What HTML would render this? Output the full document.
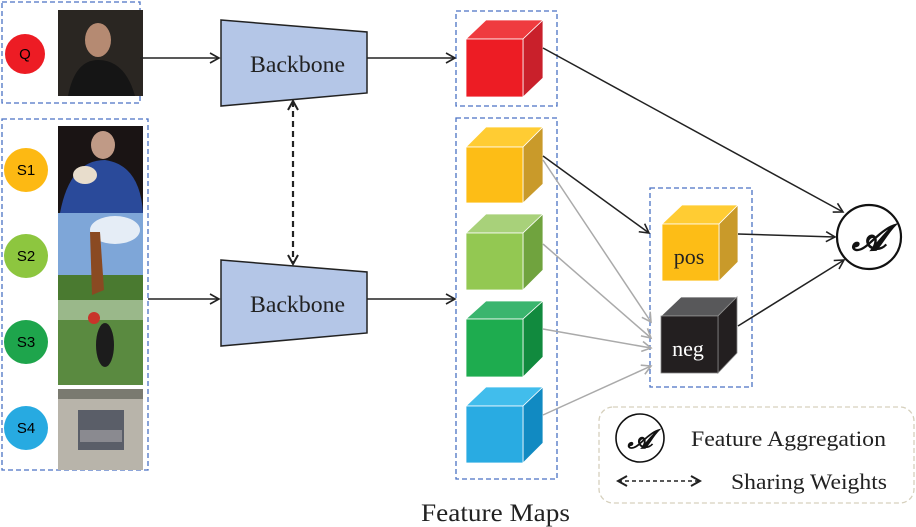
<!DOCTYPE html>
<html><head><meta charset="utf-8"><style>
body{margin:0;background:#fff;width:916px;height:527px;overflow:hidden}
svg{display:block}
text{font-family:"Liberation Serif",serif}
.s{font-family:"Liberation Sans",sans-serif;font-size:15px}
</style></head><body>
<svg width="916" height="527" viewBox="0 0 916 527" xmlns="http://www.w3.org/2000/svg">
<defs>
<marker id="ab" markerWidth="12" markerHeight="12" refX="10" refY="6" orient="auto" markerUnits="userSpaceOnUse"><path d="M1,1 L10,6 L1,11" fill="none" stroke="#222" stroke-width="1.6"/></marker>
<marker id="ag" markerWidth="12" markerHeight="12" refX="10" refY="6" orient="auto" markerUnits="userSpaceOnUse"><path d="M1,1 L10,6 L1,11" fill="none" stroke="#aaa" stroke-width="1.6"/></marker>
<marker id="as" markerWidth="12" markerHeight="12" refX="10" refY="6" orient="auto-start-reverse" markerUnits="userSpaceOnUse"><path d="M1,1 L10,6 L1,11" fill="none" stroke="#222" stroke-width="2"/></marker>
</defs>
<g fill="none" stroke="#4a72c4" stroke-width="1.3" stroke-dasharray="5,3">
<rect x="2" y="2" width="138" height="101"/>
<rect x="2" y="119" width="146" height="351"/>
<rect x="456" y="11" width="101" height="95"/>
<rect x="456" y="118" width="101" height="361"/>
<rect x="650" y="188" width="102" height="199"/>
</g>
<rect x="599" y="407" width="315" height="96" rx="14" fill="none" stroke="#d6d0bd" stroke-width="1.3" stroke-dasharray="5,3"/>
<circle cx="25" cy="54" r="20" fill="#ed1c24"/><text class="s" x="25" y="59" text-anchor="middle">Q</text>
<circle cx="26" cy="170" r="22" fill="#fdb913"/><text class="s" x="26" y="175" text-anchor="middle">S1</text>
<circle cx="26" cy="256" r="22" fill="#8dc63f"/><text class="s" x="26" y="261" text-anchor="middle">S2</text>
<circle cx="26" cy="342" r="22" fill="#1ea54c"/><text class="s" x="26" y="347" text-anchor="middle">S3</text>
<circle cx="26" cy="428" r="22" fill="#27aae1"/><text class="s" x="26" y="433" text-anchor="middle">S4</text>
<rect x="58" y="10" width="85" height="86" fill="#2a2622"/><ellipse cx="98" cy="40" rx="13" ry="17" fill="#b58a72"/><path d="M68,96 Q75,60 98,60 Q125,60 135,96Z" fill="#151515"/>
<rect x="58" y="126" width="85" height="87" fill="#1a1414"/><path d="M60,213 Q70,160 105,160 Q140,165 143,213Z" fill="#2a4a9a"/><ellipse cx="103" cy="145" rx="12" ry="14" fill="#c09a86"/><ellipse cx="85" cy="175" rx="12" ry="9" fill="#e8ddcc"/>
<rect x="58" y="213" width="85" height="87" fill="#7ea6d8"/><ellipse cx="115" cy="230" rx="25" ry="14" fill="#e5edf6"/><rect x="58" y="275" width="85" height="25" fill="#4a7a30"/><path d="M90,232 L100,232 L104,290 L92,295Z" fill="#8a4a22"/>
<rect x="58" y="300" width="85" height="85" fill="#5a8a40"/><rect x="58" y="300" width="85" height="20" fill="#9ab88a"/><ellipse cx="105" cy="345" rx="9" ry="22" fill="#1c1c1c"/><circle cx="94" cy="318" r="6" fill="#c8342a"/>
<rect x="58" y="389" width="85" height="81" fill="#b8b4aa"/><rect x="58" y="389" width="85" height="10" fill="#7a7a70"/><rect x="78" y="410" width="46" height="40" fill="#5a5e68"/><rect x="80" y="430" width="42" height="12" fill="#8a8a90"/>
<polygon points="221,20 367,32 367,93 221,106" fill="#b4c6e7" stroke="#222" stroke-width="1.5"/>
<text x="250" y="72" font-size="23" textLength="95" lengthAdjust="spacingAndGlyphs" fill="#222">Backbone</text>
<polygon points="221,260 367,272 367,333 221,346" fill="#b4c6e7" stroke="#222" stroke-width="1.5"/>
<text x="250" y="312" font-size="23" textLength="95" lengthAdjust="spacingAndGlyphs" fill="#222">Backbone</text>
<g stroke="#222" stroke-width="1.5" fill="none">
<line x1="140" y1="58" x2="219" y2="58" marker-end="url(#ab)"/>
<line x1="367" y1="58" x2="455" y2="58" marker-end="url(#ab)"/>
<line x1="148" y1="299" x2="219" y2="299" marker-end="url(#ab)"/>
<line x1="367" y1="299" x2="455" y2="299" marker-end="url(#ab)"/>
<line x1="293" y1="101" x2="293" y2="264" stroke-width="2.2" stroke-dasharray="6,4" marker-start="url(#as)" marker-end="url(#as)"/>
</g>
<g stroke="#fff" stroke-width="0.8">
<polygon points="466,39 486,20 543,20 523,39" fill="#ef3b3f"/><polygon points="523,39 543,20 543,78 523,97" fill="#c9202b"/><rect x="466" y="39" width="57" height="58" fill="#ed1c24"/>
<polygon points="466,147 486,127 543,127 523,147" fill="#ffcc33"/><polygon points="523,147 543,127 543,184 523,203" fill="#c99a2a"/><rect x="466" y="147" width="57" height="56" fill="#fdbd16"/>
<polygon points="466,233 486,214 543,214 523,233" fill="#a8d17a"/><polygon points="523,233 543,214 543,270 523,290" fill="#70a33e"/><rect x="466" y="233" width="57" height="57" fill="#93c852"/>
<polygon points="466,319 486,301 543,301 523,319" fill="#3ab56e"/><polygon points="523,319 543,301 543,357 523,377" fill="#118a3e"/><rect x="466" y="319" width="57" height="58" fill="#1eac4f"/>
<polygon points="466,406 486,387 543,387 523,406" fill="#41bdec"/><polygon points="523,406 543,387 543,443 523,463" fill="#118ac2"/><rect x="466" y="406" width="57" height="57" fill="#29abe2"/>
<polygon points="662,224 682,205 738,205 719,224" fill="#ffcc33"/><polygon points="719,224 738,205 738,262 719,281" fill="#c99a2a"/><rect x="662" y="224" width="57" height="57" fill="#fdbd16"/>
<polygon points="661,316 681,297 737,297 718,316" fill="#58585a"/><polygon points="718,316 737,297 737,353 718,373" fill="#231f20" stroke="#888"/><rect x="661" y="316" width="57" height="57" fill="#231f20" stroke="#888"/>
</g>
<text x="689" y="264" font-size="22" text-anchor="middle" fill="#222">pos</text>
<text x="688" y="356" font-size="22" text-anchor="middle" fill="#fff">neg</text>
<g stroke="#aaa" stroke-width="1.5" fill="none">
<line x1="543" y1="160" x2="651" y2="322" marker-end="url(#ag)"/>
<line x1="543" y1="244" x2="651" y2="338" marker-end="url(#ag)"/>
<line x1="543" y1="329" x2="651" y2="348" marker-end="url(#ag)"/>
<line x1="543" y1="415" x2="651" y2="366" marker-end="url(#ag)"/>
</g>
<g stroke="#222" stroke-width="1.5" fill="none">
<line x1="543" y1="156" x2="649" y2="233" marker-end="url(#ab)"/>
<line x1="543" y1="48" x2="843" y2="212" marker-end="url(#ab)"/>
<line x1="738" y1="234" x2="835" y2="237" marker-end="url(#ab)"/>
<line x1="738" y1="326" x2="844" y2="260" marker-end="url(#ab)"/>
</g>
<circle cx="869" cy="237" r="32" fill="#fff" stroke="#111" stroke-width="2.2"/>
<text x="869" y="250" font-size="36" font-style="italic" font-weight="bold" text-anchor="middle" fill="#111">𝓐</text>
<circle cx="640" cy="438" r="24" fill="#fff" stroke="#111" stroke-width="1.6"/>
<text x="640" y="448" font-size="26" font-style="italic" font-weight="bold" text-anchor="middle" fill="#111">𝓐</text>
<text x="691" y="446" font-size="22" textLength="195" lengthAdjust="spacingAndGlyphs" fill="#222">Feature Aggregation</text>
<line x1="618" y1="481" x2="700" y2="481" stroke="#222" stroke-width="1.6" stroke-dasharray="4,3" marker-start="url(#as)" marker-end="url(#as)"/>
<text x="731" y="489" font-size="22" textLength="156" lengthAdjust="spacingAndGlyphs" fill="#222">Sharing Weights</text>
<text x="421" y="521" font-size="25" textLength="149" lengthAdjust="spacingAndGlyphs" fill="#222">Feature Maps</text>
</svg>
</body></html>
